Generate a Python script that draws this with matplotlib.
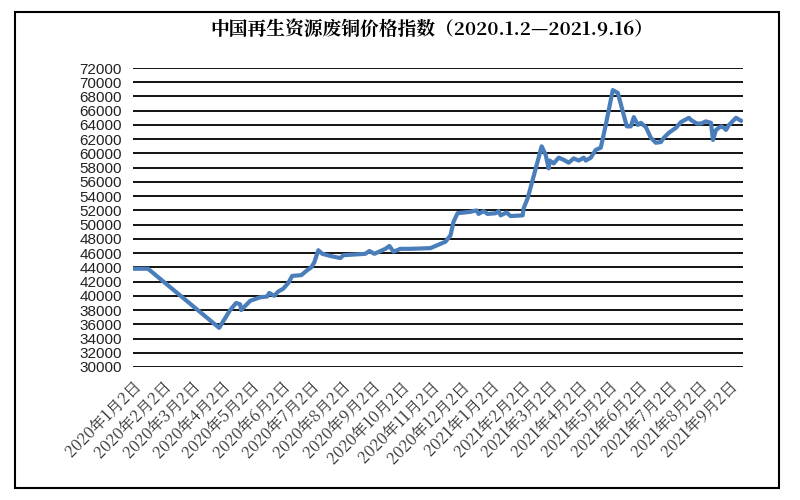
import matplotlib
matplotlib.use("Agg")
import matplotlib.pyplot as plt
from matplotlib.patches import Rectangle
import datetime as dt

# pixel-read trace: x pixel positions along plot, values
px = [133,148,219,230,236,240,241,250,260,267,269,274,278,283,288,292,301,307,311,314,318,322,330,340,343,365,369,374,385,389,393,400,410,430,440,445,450,453,
      457,470,476,478,483,487,495,498,500,506,510,522,523,527,533,541,545,548,549,553,558,563,568,573,578,583,585,590,595,600,605,612,617,626,630,633,637,640,645,650,655,660,663,668,675,680,688,690,696,700,705,710,712,715,720,723,725,728,735,740]
values = [43800,43800,35500,38000,39000,38800,38000,39300,39800,39900,40400,40000,40600,41000,41800,42800,42900,43600,44000,44700,46400,45900,45600,45300,45700,45900,46300,45900,46600,47000,46200,46600,46600,46700,47300,47600,48500,50400,
          51600,51800,52000,51500,51900,51500,51600,51900,51300,51700,51200,51300,52300,53700,56800,61000,59800,57900,59000,58600,59400,59100,58700,59300,59000,59400,59000,59400,60500,60800,64000,68900,68500,63800,63800,65100,64000,64300,63700,62200,61500,61600,62200,62900,63600,64400,65000,64700,64200,64200,64500,64300,61900,63300,63800,63600,63300,64000,65000,64600]
days = [(p-133)*623/609 for p in px]

tick_labels = [f"{y}年{m}月2日" for y in (2020,) for m in range(1,13)] + [f"2021年{m}月2日" for m in range(1,10)]
tick_dates = [dt.date(2020,m,2) for m in range(1,13)] + [dt.date(2021,m,2) for m in range(1,10)]
start = dt.date(2020,1,2)
tick_pos = [(d-start).days for d in tick_dates]
yticks = list(range(30000, 72001, 2000))

fig = plt.figure(figsize=(8,5), dpi=100)
fig.patches.append(Rectangle((15/800, 12/500), 764/800, 476/500, transform=fig.transFigure,
                             fill=False, ec='black', lw=1.5))
ax = fig.add_axes([133/800, 1-367/500, 610/800, 299/500])
for s in ax.spines.values():
    s.set_visible(False)
ax.set_ylim(30000, 72000)
ax.set_xlim(0, 623)
ax.set_yticks(yticks)
ax.set_yticklabels([str(v) for v in yticks], family=['Liberation Sans'], fontsize=11, color='#222222')
ax.grid(axis='y', color='black', lw=1.3)
ax.set_axisbelow(True)
ax.tick_params(length=0, pad=8)
ax.plot(days, values, color='#4a7ebb', lw=3, solid_joinstyle='round', zorder=3)
ax.set_xticks(tick_pos)
ax.set_xticklabels(tick_labels, rotation=45, ha='right', rotation_mode='anchor',
                   family=['Noto Serif CJK SC','Noto Sans CJK SC','DejaVu Sans'], fontsize=11.5, color='#333333')
fig.text(0.54, 0.94, "中国再生资源废铜价格指数（2020.1.2—2021.9.16）", ha='center', va='center',
         family=['Noto Serif CJK SC','Noto Sans CJK SC','DejaVu Sans'], fontsize=13.5, fontweight='bold')
fig.savefig("out.png", dpi=100)
